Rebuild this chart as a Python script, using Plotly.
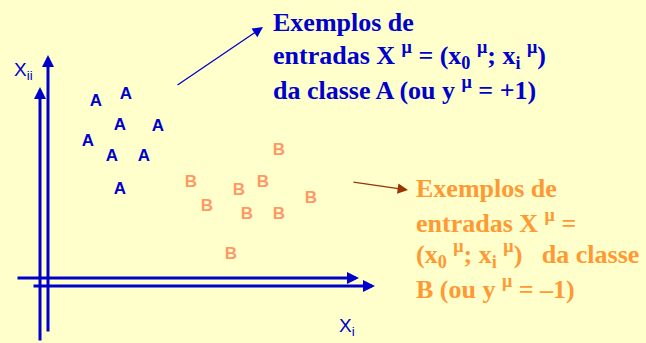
import plotly.graph_objects as go

# pontos da classe A e da classe B (x0, xi)
a_x0 = [52, 82, 76, 114, 44, 68, 100, 76]
a_xi = [180, 187, 156, 155, 140, 125, 125, 92]
b_x0 = [235, 147, 219, 195, 267, 163, 203, 235, 187]
b_xi = [131, 99, 99, 91, 83, 75, 67, 67, 27]

texto_a = [
    "Exemplos de",
    "entradas X <sup>μ</sup> = (x<sub>0</sub> <sup>μ</sup>; x<sub>i</sub> <sup>μ</sup>)",
    "da classe A (ou y <sup>μ</sup> = +1)",
]
texto_b = [
    "Exemplos de",
    "entradas X <sup>μ</sup> =",
    "(x<sub>0</sub> <sup>μ</sup>; x<sub>i</sub> <sup>μ</sup>)\u00a0\u00a0 da classe",
    "B (ou y <sup>μ</sup> = –1)",
]

BLUE = "#0000CC"
ORANGE = "#FF9966"
BG = "#FFFFCC"

fig = go.Figure()

fig.add_trace(go.Scatter(
    x=a_x0, y=a_xi, mode="text", text=["A"] * len(a_x0),
    textfont=dict(family="Liberation Sans", size=17, color=BLUE, weight="bold"),
    hoverinfo="skip", showlegend=False,
))
fig.add_trace(go.Scatter(
    x=b_x0, y=b_xi, mode="text", text=["B"] * len(b_x0),
    textfont=dict(family="Liberation Sans", size=17, color=ORANGE, weight="bold"),
    hoverinfo="skip", showlegend=False,
))


def arrow(x, y, ax, ay, color, width, size=1.0):
    fig.add_annotation(x=x, y=y, ax=ax, ay=ay, xref="x", yref="y",
                       axref="x", ayref="y", text="", showarrow=True,
                       arrowhead=2, arrowsize=size, arrowwidth=width,
                       arrowcolor=color, standoff=0, startstandoff=0)


# eixos duplos
arrow(-4, 195, -4, -60, BLUE, 3, 0.8)
arrow(4, 227, 4, -51, BLUE, 3, 0.8)
arrow(315, 4, -28, 4, BLUE, 3, 0.8)
arrow(331, -4, -12, -4, BLUE, 3, 0.8)

# setas das legendas
arrow(219, 255, 132, 196, BLUE, 1.3, 1.6)
arrow(364, 92, 308, 100, "#993300", 1.3, 1.6)

fig.add_annotation(x=-32, y=211, xref="x", yref="y", text="X<sub>ii</sub>",
                   showarrow=False, xanchor="left", yanchor="middle",
                   font=dict(family="Liberation Sans", size=19, color=BLUE))
fig.add_annotation(x=293, y=-45, xref="x", yref="y", text="X<sub>i</sub>",
                   showarrow=False, xanchor="left", yanchor="middle",
                   font=dict(family="Liberation Sans", size=19, color=BLUE))

serif = dict(family="Liberation Serif", size=26)
for i, linha in enumerate(texto_a):
    fig.add_annotation(x=227, y=260 - 33 * i, xref="x", yref="y",
                       showarrow=False, xanchor="left", yanchor="middle",
                       text="<b>" + linha + "</b>", font=dict(serif, color=BLUE))
for i, linha in enumerate(texto_b):
    fig.add_annotation(x=370, y=94 - 33 * i, xref="x", yref="y",
                       showarrow=False, xanchor="left", yanchor="middle",
                       text="<b>" + linha + "</b>",
                       font=dict(serif, color="#FF9933"))

fig.update_xaxes(range=[-44, 602], visible=False, fixedrange=True)
fig.update_yaxes(range=[-61, 282], visible=False, fixedrange=True)
fig.update_layout(
    width=646, height=343,
    margin=dict(l=0, r=0, t=0, b=0),
    paper_bgcolor=BG, plot_bgcolor=BG,
)

fig.write_html("out.html", config=dict(displayModeBar=False),
               post_script="document.body.style.margin='0';")
